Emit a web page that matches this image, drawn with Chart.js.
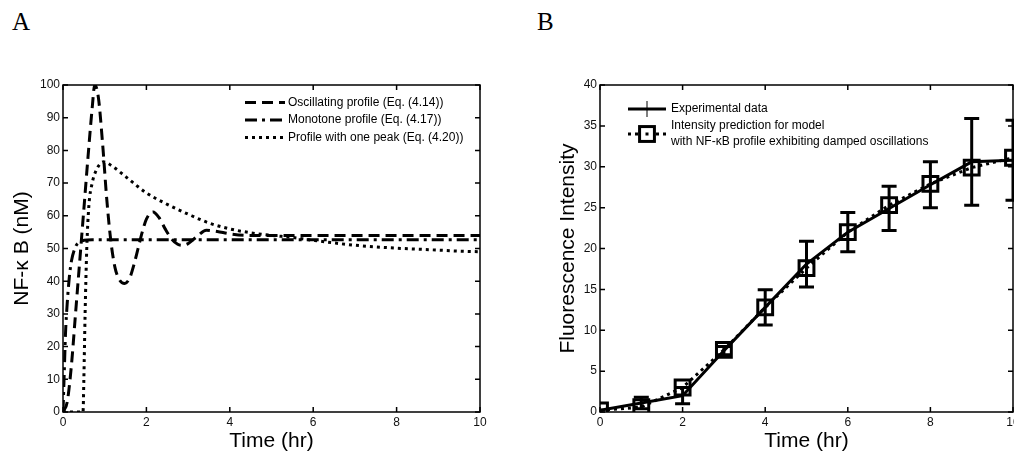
<!DOCTYPE html>
<html>
<head>
<meta charset="utf-8">
<script src="https://cdn.jsdelivr.net/npm/chart.js@4.4.1/dist/chart.umd.min.js"></script>
<style>
html,body{margin:0;padding:0;background:#fff;overflow:hidden;width:1014px;height:454px}
.wrap{position:absolute;top:0;height:454px}
#wrapA{left:0;width:500px}
#wrapB{left:540px;width:500px}
.letter{position:absolute;top:9px;font-family:"Liberation Serif","Times New Roman",serif;font-size:25px;line-height:1;color:#000}
</style>
</head>
<body>
<div class="letter" style="left:12px">A</div>
<div class="letter" style="left:537px">B</div>
<div class="wrap" id="wrapA"><canvas id="chartA"></canvas></div>
<div class="wrap" id="wrapB"><canvas id="chartB"></canvas></div>
<script>
// ---- panel A : NF-kB profiles
const oscT = [0,0.1,0.2,0.3,0.4,0.5,0.6,0.7,0.76,0.85,0.95,1.05,1.15,1.25,1.35,1.48,1.6,1.7,1.8,1.9,2.0,2.16,2.3,2.45,2.6,2.75,2.86,3.0,3.2,3.44,3.7,4.0,4.5,5,6,7,8,9,10];
const oscV = [0,3,14,30,46,62,78,93,100,96,82,65,52,44,40.5,39.3,41,45,50,55,59,61.2,59.5,56,53,51.3,51,51.5,53.5,55.6,55.2,54.5,54,54,54,54,54,54,54];
const monoT = [0,0.03,0.06,0.1,0.15,0.2,0.3,0.4,0.5,0.7,1,2,4,6,8,10];
const monoV = [0,12,24,33,41,46,50.5,52,52.5,52.7,52.7,52.7,52.7,52.7,52.7,52.7];
const peakT = [0,0.3,0.48,0.5,0.53,0.57,0.62,0.7,0.8,0.97,1.2,1.5,2,2.5,3,3.5,4,4.5,5,5.5,6,6.5,7,7.5,8,8.5,9,9.5,10];
const peakV = [0,0,0,10,30,50,63,70,74,76.5,75,72,67,63.5,60.5,57.8,56,54.8,54,53.4,52.5,51.7,51,50.5,50.1,49.8,49.5,49.2,49];

// ---- panel B : fluorescence intensity
const hours = [0,1,2,3,4,5,6,7,8,9,10];
const expMean = [0.2,1.1,2.0,7.5,12.8,18.1,22.0,24.9,27.8,30.6,30.8];
const expErr = [0,0.7,1.0,0.5,2.15,2.8,2.4,2.7,2.8,5.3,4.9];
const predMean = [0.2,0.6,3.0,7.6,12.8,17.6,22.0,25.3,27.9,29.9,31.1];

const xTicks = [0,2,4,6,8,10];

Chart.defaults.font.family = '"Liberation Sans", Arial, sans-serif';
Chart.defaults.color = '#111';
Chart.defaults.animation = false;

function pts(xs, ys){
  return xs.map((v,i) => ({x:v, y:ys[i]}));
}

// MATLAB style box with inward ticks on all four sides
const boxAxes = {
  id:'boxAxes',
  afterDatasetsDraw(chart){
    const {ctx, chartArea:{left,right,top,bottom}, scales:{x,y}} = chart;
    ctx.save();
    ctx.strokeStyle = '#000';
    ctx.lineWidth = 1.5;
    ctx.setLineDash([]);
    ctx.strokeRect(left, top, right-left, bottom-top);
    ctx.beginPath();
    x.ticks.forEach(t => {
      const px = x.getPixelForValue(t.value);
      ctx.moveTo(px,bottom); ctx.lineTo(px,bottom-5);
      ctx.moveTo(px,top); ctx.lineTo(px,top+5);
    });
    y.ticks.forEach(t => {
      const py = y.getPixelForValue(t.value);
      ctx.moveTo(left,py); ctx.lineTo(left+5,py);
      ctx.moveTo(right,py); ctx.lineTo(right-5,py);
    });
    ctx.stroke();
    ctx.restore();
  }
};

// legend drawn with line samples, inside the axes
const lineLegend = {
  id:'lineLegend',
  afterDraw(chart, args, opts){
    const {ctx} = chart;
    ctx.save();
    ctx.font = '12px "Liberation Sans", Arial, sans-serif';
    ctx.textBaseline = 'middle';
    ctx.fillStyle = '#000';
    chart.data.datasets.forEach((ds, i) => {
      const y = opts.rows[i];
      const x0 = opts.left, x1 = opts.left + opts.lineLen, xm = (x0+x1)/2;
      ctx.strokeStyle = '#000';
      ctx.lineWidth = ds.borderWidth;
      ctx.setLineDash(ds.borderDash || []);
      ctx.beginPath(); ctx.moveTo(x0,y); ctx.lineTo(x1,y); ctx.stroke();
      ctx.setLineDash([]);
      if (ds.errorMark){
        ctx.lineWidth = 1;
        ctx.beginPath(); ctx.moveTo(xm,y-8); ctx.lineTo(xm,y+8); ctx.stroke();
      }
      if (ds.pointRadius > 0){
        const s = ds.pointRadius * Math.SQRT1_2;
        ctx.fillStyle = '#fff';
        ctx.fillRect(xm-s, y-s, 2*s, 2*s);
        ctx.lineWidth = ds.pointBorderWidth;
        ctx.strokeRect(xm-s, y-s, 2*s, 2*s);
        ctx.fillStyle = '#000';
        ctx.fillRect(xm-1.5, y-1.5, 3, 3);
      }
      const lines = ds.label.split('\n');
      const lh = opts.lineHeight;
      lines.forEach((l,k) => {
        ctx.fillText(l, x1 + opts.gap, y + (k - (lines.length-1)/2) * lh);
      });
    });
    ctx.restore();
  }
};

// vertical error bars for the experimental data
const errorBars = {
  id:'errorBars',
  afterDatasetsDraw(chart, args, opts){
    const {ctx, scales:{x,y}} = chart;
    ctx.save();
    ctx.strokeStyle = '#000';
    ctx.lineWidth = opts.width;
    ctx.setLineDash([]);
    ctx.beginPath();
    hours.forEach((h,i) => {
      const e = expErr[i];
      if (!e) return;
      const px = x.getPixelForValue(h);
      const pt = y.getPixelForValue(expMean[i]+e);
      const pb = y.getPixelForValue(expMean[i]-e);
      ctx.moveTo(px,pt); ctx.lineTo(px,pb);
      ctx.moveTo(px-opts.cap,pt); ctx.lineTo(px+opts.cap,pt);
      ctx.moveTo(px-opts.cap,pb); ctx.lineTo(px+opts.cap,pb);
    });
    ctx.stroke();
    ctx.restore();
  }
};

function scalesFor(yMax, yStep, yTitle, yTitlePad, yWidth){
  return {
    x:{
      type:'linear', min:0, max:10,
      afterBuildTicks(s){ s.ticks = xTicks.map(v => ({value:v})); },
      afterFit(s){ s.height = 42; },
      grid:{display:false, drawTicks:false},
      border:{display:false},
      ticks:{font:{size:12}, padding:3, maxRotation:0},
      title:{display:true, text:'Time (hr)', font:{size:21}, color:'#000', padding:{top:0,bottom:0}}
    },
    y:{
      type:'linear', min:0, max:yMax,
      ticks:{stepSize:yStep, font:{size:12}, padding:3},
      afterFit(s){ s.width = yWidth; },
      grid:{display:false, drawTicks:false},
      border:{display:false},
      title:{display:true, text:yTitle, font:{size:21}, color:'#000', padding:{top:yTitlePad,bottom:0}}
    }
  };
}

const lineBase = {borderColor:'#000', backgroundColor:'#000', borderWidth:3, pointRadius:0, fill:false, cubicInterpolationMode:'monotone'};

new Chart(document.getElementById('chartA'), {
  type:'line',
  data:{
    datasets:[
      Object.assign({label:'Oscillating profile (Eq. (4.14))', data:pts(oscT,oscV), borderDash:[11,6]}, lineBase),
      Object.assign({label:'Monotone profile (Eq. (4.17))', data:pts(monoT,monoV), borderDash:[12,5,3,5]}, lineBase),
      Object.assign({label:'Profile with one peak (Eq. (4.20))', data:pts(peakT,peakV), borderDash:[3,4]}, lineBase)
    ]
  },
  options:{
    responsive:true, maintainAspectRatio:false,
    layout:{padding:{top:85, right:20, left:0, bottom:0}},
    scales:scalesFor(100, 10, 'NF-\u03BA B (nM)', 10, 63),
    plugins:{
      legend:{display:false}, tooltip:{enabled:false},
      lineLegend:{left:245, rows:[102.5, 120, 137.5], lineLen:40, gap:3, lineHeight:16}
    }
  },
  plugins:[boxAxes, lineLegend]
});

new Chart(document.getElementById('chartB'), {
  type:'line',
  data:{
    datasets:[
      Object.assign({label:'Experimental data', data:pts(hours,expMean), errorMark:true}, lineBase, {cubicInterpolationMode:'default'}),
      Object.assign({}, lineBase, {
        label:'Intensity prediction for model\nwith NF-\u03BAB profile exhibiting damped oscillations',
        data:pts(hours,predMean), borderDash:[3,4], cubicInterpolationMode:'default',
        pointStyle:'rect', pointRadius:10.5, pointBorderWidth:3, pointBackgroundColor:'rgba(0,0,0,0)', pointBorderColor:'#000'
      })
    ]
  },
  options:{
    responsive:true, maintainAspectRatio:false,
    layout:{padding:{top:85, right:27, left:0, bottom:0}},
    scales:scalesFor(40, 5, 'Fluorescence Intensity', 16, 60),
    plugins:{
      legend:{display:false}, tooltip:{enabled:false},
      lineLegend:{left:88, rows:[109, 134], lineLen:38, gap:5, lineHeight:16},
      errorBars:{width:3, cap:7.5}
    }
  },
  plugins:[errorBars, boxAxes, lineLegend]
});
</script>
</body>
</html>
